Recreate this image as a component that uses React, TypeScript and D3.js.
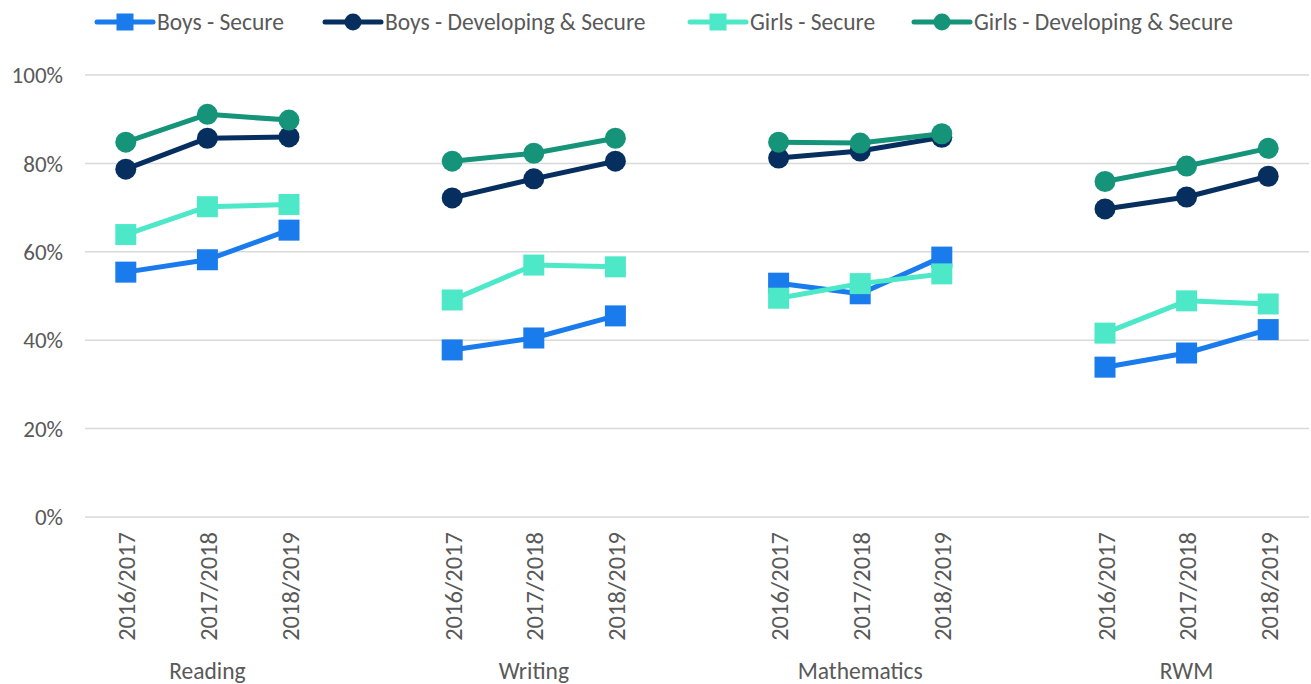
import React from "react";
import * as d3 from "d3";

const categories = ["Reading", "Writing", "Mathematics", "RWM"];
const years = ["2016/2017", "2017/2018", "2018/2019"];
const yTicks = [0, 20, 40, 60, 80, 100];

const boysSecure = [55.4, 58.2, 64.9, 37.8, 40.5, 45.5, 52.9, 50.5, 58.8, 33.9, 37.1, 42.4];
const boysDevSecure = [78.7, 85.7, 86.0, 72.2, 76.5, 80.5, 81.2, 82.8, 85.9, 69.7, 72.4, 77.1];
const girlsSecure = [63.9, 70.2, 70.7, 49.1, 57.0, 56.6, 49.5, 52.8, 55.0, 41.6, 48.9, 48.2];
const girlsDevSecure = [84.8, 91.1, 89.8, 80.5, 82.3, 85.7, 84.8, 84.6, 86.7, 75.9, 79.4, 83.4];

const series = [
  { name: "Boys - Secure", values: boysSecure, color: "#1A7BEC", shape: "square" },
  { name: "Boys - Developing & Secure", values: boysDevSecure, color: "#062F5F", shape: "circle" },
  { name: "Girls - Secure", values: girlsSecure, color: "#4DE8C8", shape: "square" },
  { name: "Girls - Developing & Secure", values: girlsDevSecure, color: "#15947A", shape: "circle" },
];

const W = 1311;
const H = 684;
const left = 85;
const right = 1309;
const top = 75;
const bottom = 517;
const FONT = "Carlito, Calibri, Lato, 'Open Sans', sans-serif";
const TEXT = "#595959";

export default function App() {
  const nSlots = categories.length * (years.length + 1) - 1;
  const x = d3.scaleBand<number>().domain(d3.range(nSlots)).range([left, right]).padding(0);
  const y = d3.scaleLinear().domain([0, 100]).range([bottom, top]);
  const slotOf = (i: number) => Math.floor(i / years.length) * (years.length + 1) + (i % years.length);
  const cx = (i: number) => (x(slotOf(i)) as number) + x.bandwidth() / 2;

  const legendX = [97, 325, 690, 914];

  return (
    <svg width={W} height={H} style={{ position: "absolute", left: 0, top: 0, background: "#fff" }} fontFamily={FONT}>
      {yTicks.map((t) => (
        <g key={t}>
          <line x1={left} x2={right} y1={y(t)} y2={y(t)} stroke="#D9D9D9" strokeWidth={1.5} />
          <text x={63} y={y(t)} dy="0.36em" textAnchor="end" fontSize={23} fill={TEXT}>
            {t}%
          </text>
        </g>
      ))}
      {categories.map((c, ci) =>
        years.map((yr, j) => {
          const i = ci * years.length + j;
          const px = cx(i);
          return (
            <text
              key={c + yr}
              transform={`translate(${px + 9.5},${532}) rotate(-90)`}
              textAnchor="end"
              fontSize={24.5}
              fill={TEXT}
            >
              {yr}
            </text>
          );
        })
      )}
      {categories.map((c, ci) => (
        <text key={c} x={cx(ci * years.length + 1)} y={679} textAnchor="middle" fontSize={23.5} fill={TEXT}>
          {c}
        </text>
      ))}
      {series.map((s) => (
        <g key={s.name}>
          {categories.map((c, ci) => {
            const pts = years.map((_, j) => {
              const i = ci * years.length + j;
              return [cx(i), y(s.values[i])] as [number, number];
            });
            return (
              <path
                key={c}
                d={d3.line()(pts) || ""}
                fill="none"
                stroke={s.color}
                strokeWidth={5}
                strokeLinejoin="round"
              />
            );
          })}
          {s.values.map((v, i) =>
            s.shape === "square" ? (
              <rect key={i} x={cx(i) - 10.5} y={y(v) - 10.5} width={21} height={21} fill={s.color} />
            ) : (
              <circle key={i} cx={cx(i)} cy={y(v)} r={10.5} fill={s.color} />
            )
          )}
        </g>
      ))}
      {series.map((s, k) => {
        const lx = legendX[k];
        const ly = 22;
        return (
          <g key={s.name}>
            <line x1={lx} x2={lx + 56} y1={ly} y2={ly} stroke={s.color} strokeWidth={5} strokeLinecap="round" />
            {s.shape === "square" ? (
              <rect x={lx + 28 - 8.5} y={ly - 8.5} width={17} height={17} fill={s.color} />
            ) : (
              <circle cx={lx + 28} cy={ly} r={8.5} fill={s.color} />
            )}
            <text x={lx + 60} y={ly} dy="0.36em" fontSize={23.5} fill={TEXT}>
              {s.name}
            </text>
          </g>
        );
      })}
    </svg>
  );
}
